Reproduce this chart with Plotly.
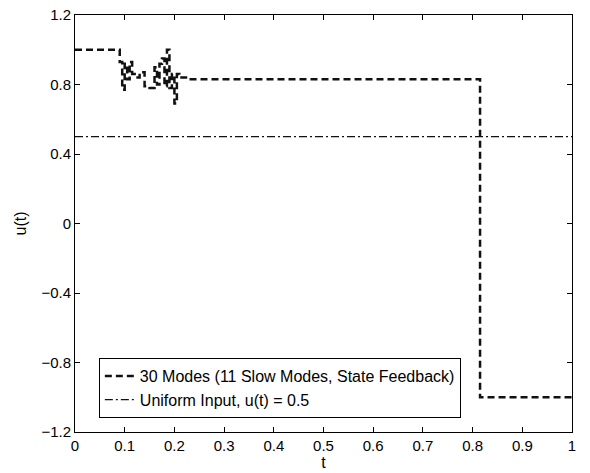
import plotly.graph_objects as go

# 30 modes controller input (zero-order hold)
t_ctrl = [0.0, 0.09, 0.095, 0.10, 0.105, 0.11, 0.115, 0.12, 0.13, 0.14, 0.15, 0.16,
          0.165, 0.17, 0.175, 0.18, 0.185, 0.19, 0.195, 0.20, 0.205, 0.21, 0.23,
          0.815, 1.0]
u_ctrl = [1.0, 0.93, 0.77, 0.92, 0.83, 0.93, 0.86, 0.84, 0.87, 0.79, 0.78, 0.90,
          0.80, 0.92, 0.95, 0.79, 1.0, 0.78, 0.86, 0.69, 0.86, 0.84, 0.83,
          -1.0, -1.0]

t_unif = [0.0, 1.0]
u_unif = [0.5, 0.5]

x_ticks = [0, 0.1, 0.2, 0.3, 0.4, 0.5, 0.6, 0.7, 0.8, 0.9, 1]
x_labels = ["0", "0.1", "0.2", "0.3", "0.4", "0.5", "0.6", "0.7", "0.8", "0.9", "1"]
y_ticks = [-1.2, -0.8, -0.4, 0, 0.4, 0.8, 1.2]
y_labels = ["\u22121.2", "\u22120.8", "\u22120.4", "0", "0.4", "0.8", "1.2"]

fig = go.Figure()
fig.add_trace(go.Scatter(x=t_ctrl, y=u_ctrl, mode="lines", line_shape="hv",
                         name="30 Modes (11 Slow Modes, State Feedback)",
                         line=dict(color="#111111", width=2.5, dash="7px,4px")))
fig.add_trace(go.Scatter(x=t_unif, y=u_unif, mode="lines",
                         name="Uniform Input, u(t) = 0.5",
                         line=dict(color="#111111", width=1.3, dash="8px,3px,2px,3px")))

font = "Liberation Sans, Arial, sans-serif"
axis_common = dict(showgrid=False, zeroline=False, showline=True, linecolor="black",
                   linewidth=1, mirror="ticks", ticks="inside", ticklen=5,
                   tickcolor="black", automargin=False,
                   tickfont=dict(family=font, size=15, color="black"))

fig.update_layout(
    width=590, height=473,
    margin=dict(l=75, r=18, t=15, b=41),
    paper_bgcolor="white", plot_bgcolor="white",
    showlegend=True,
    legend=dict(x=0.048, y=0.1775, xanchor="left", yanchor="top",
                bordercolor="black", borderwidth=1, bgcolor="white",
                font=dict(family=font, size=16, color="black"),
                tracegroupgap=0),
    xaxis=dict(range=[0, 1], tickvals=x_ticks, ticktext=x_labels,
               title=dict(text="t", font=dict(family=font, size=16, color="black"), standoff=0),
               **axis_common),
    yaxis=dict(range=[-1.2, 1.2], tickvals=y_ticks, ticktext=y_labels,
               title=dict(text="u(t)", font=dict(family=font, size=16, color="black"), standoff=10),
               **axis_common),
)

fig.write_html("out.html")
